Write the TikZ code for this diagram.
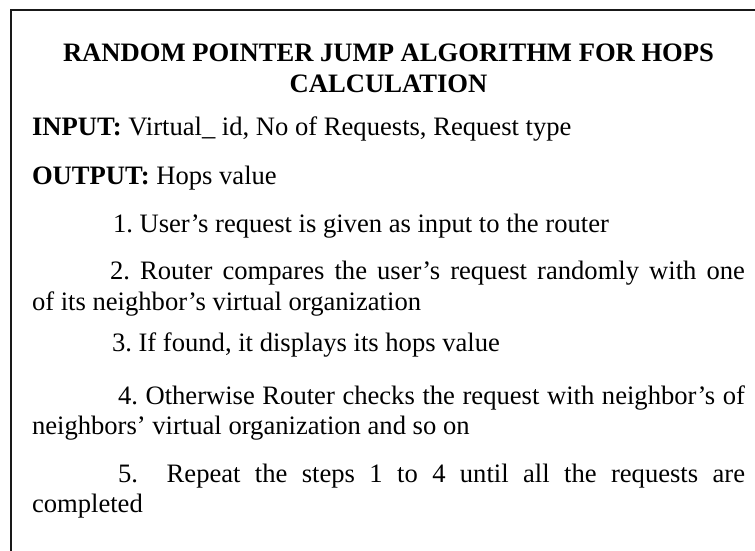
\documentclass[tikz,border=0pt]{standalone}
\usepackage{fontspec}
\setmainfont{Liberation Serif}
\begin{document}
\begin{tikzpicture}[x=1bp,y=-1bp,
  txt/.style={inner sep=0pt,outer sep=0pt,anchor=base west,
    font=\fontsize{26.6bp}{30.6bp}\selectfont\frenchspacing},
  ttl/.style={txt,anchor=base,font=\fontsize{26.6bp}{30.6bp}\selectfont\bfseries},
  frame/.style={line width=2bp,draw=black!90}]
\useasboundingbox (0,0) rectangle (755,551);
% open frame: left and top edges only
\draw[frame] (11,560) -- (11,10) -- (760,10);
% heading
\node[ttl] (t1) at (388.5,62) {RANDOM POINTER JUMP ALGORITHM FOR HOPS};
\node[ttl] (t2) at (388.5,93) {CALCULATION};
% input / output
\node[txt] (in) at (32,136) {\textbf{INPUT:} Virtual\_ id, No of Requests, Request type};
\node[txt] (out) at (32,185) {\textbf{OUTPUT:} Hops value};
% steps
\node[txt] (s1) at (113,233) {1. User’s request is given as input to the router};
\node[txt] (s2a) at (110,280) {\makebox[635bp][s]{2. Router compares the user’s request randomly with one}};
\node[txt] (s2b) at (32,310) {of its neighbor’s virtual organization};
\node[txt] (s3) at (112,351) {3. If found, it displays its hops value};
\node[txt] (s4a) at (118,404) {\makebox[627bp][s]{4. Otherwise Router checks the request with neighbor’s of}};
\node[txt] (s4b) at (32,434) {neighbors’ virtual organization and so on};
\node[txt] (s5a) at (118,482) {\makebox[627bp][s]{5.\ \ Repeat the steps 1 to 4 until all the requests are}};
\node[txt] (s5b) at (32,512) {completed};
\end{tikzpicture}
\end{document}
